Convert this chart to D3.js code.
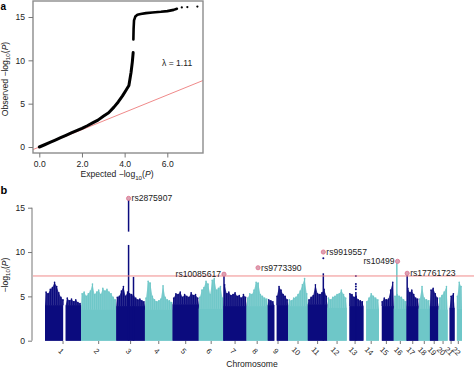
<!DOCTYPE html>
<html lang="en">
<head>
<meta charset="UTF-8">
<title>QQ and Manhattan plot</title>
<script src="https://cdn.jsdelivr.net/npm/d3@7"></script>
<style>
  body { margin: 0; background: #fff; }
  svg { display: block; font-family: "Liberation Sans", Arial, Helvetica, sans-serif; }
</style>
</head>
<body>
<svg id="chart" width="474" height="369"></svg>
<script>
// ---------- data: panel a (QQ plot) ----------
var qqExpected = [0, 0.25, 0.5, 0.75, 1, 1.25, 1.5, 1.75, 2, 2.25, 2.5, 2.75, 3, 3.25, 3.5, 3.7, 3.9, 4.05, 4.2, 4.3, 4.36, 4.4];
var qqObserved = [0, 0.26, 0.53, 0.8, 1.07, 1.35, 1.62, 1.88, 2.15, 2.45, 2.78, 3.1, 3.55, 3.95, 4.6, 5.2, 5.9, 6.5, 7.1, 8.6, 9.8, 10.9];
var qqExpectedTop = [4.41, 4.42, 4.44, 4.5, 4.6, 4.75, 5.0, 5.3, 5.7, 6.0, 6.3, 6.45];
var qqObservedTop = [12.4, 13.6, 14.6, 15.05, 15.25, 15.35, 15.45, 15.52, 15.6, 15.68, 15.82, 15.95];
var qqTailExpected = [6.68, 6.94, 7.41];
var qqTailObserved = [16.1, 16.15, 16.2];
var qqTicksX = [0, 2, 4, 6];
var qqTicksY = [0, 5, 10, 15];
var lambdaText = "\u03bb = 1.11";

// ---------- data: panel b (Manhattan plot) ----------
var chromosomes = ["1","2","3","4","5","6","7","8","9","10","11","12","13","14","15","16","17","18","19","20","21","22"];
var chromLengths = [249.25, 243.2, 198.0, 191.2, 180.9, 171.1, 159.1, 146.4, 141.2, 135.5, 135.0, 133.9, 115.2, 107.3, 102.5, 90.4, 81.2, 78.1, 59.1, 63.0, 48.1, 51.3]; // Mb
// level of the dense band of SNPs per chromosome
var chromBase = [4.0, 3.5, 3.9, 3.5, 4.1, 3.6, 3.9, 3.9, 4.0, 3.9, 4.1, 3.7, 3.9, 3.6, 3.9, 3.6, 3.9, 3.6, 3.9, 3.5, 3.7, 3.6];
// highest -log10(P) in evenly spaced windows along each chromosome
var chromPeaks = [
  [5.5, 5.3, 5.8, 6.0, 6.6, 6.1, 5.4, 4.9, 4.6, null, 4.8, 4.5, 4.7, 4.4, 4.6, 4.3, 4.2],
  [5.3, 5.5, 5.0, 5.3, 5.6, 6.4, 5.2, 5.5, 5.7, 5.2, 5.9, 5.6, 5.8, 5.5, 5.3, 4.9, 4.6],
  [4.9, 5.0, 5.6, 6.1, 5.0, 5.5, 5.3, 5.2, 5.0, 4.8, 4.6, 4.7, 4.5, 4.4],
  [4.8, 6.7, 6.5, 5.0, 4.6, 4.4, 4.5, 4.7, 6.2, 4.9, 4.6, 4.5, 4.3],
  [4.8, 5.3, 5.2, 5.5, 4.9, 5.2, 5.0, 4.9, 5.4, 5.1, 5.2, 4.8],
  [4.9, 5.7, 6.0, 6.7, 6.4, 5.2, 6.8, 7.0, 5.7, 5.9, 6.1, 4.8],
  [6.3, 5.3, 5.5, 5.1, 5.2, 5.4, 5.0, 5.1, 4.8, 5.2, 4.9],
  [4.8, 5.3, 5.2, 5.7, 6.6, 6.5, 5.2, 5.0, 4.8, 4.7],
  [4.6, 4.5, 4.4, null, 5.0, 6.1, 5.7, 5.2, 5.0, 4.6],
  [4.6, 4.5, 4.8, 4.9, 5.2, 5.6, 6.3, 7.0, 5.3],
  [4.6, 4.9, 5.1, 6.3, 5.3, 5.2, 5.4, 5.8, 5.0],
  [4.8, 4.6, 4.9, 5.0, 5.2, 5.3, 5.7, 5.2, 4.8],
  [null, 5.3, 5.2, 4.9, 5.0, 4.6, 4.5, 4.4],
  [null, 4.4, 4.8, 5.3, 5.0, 4.8, 4.6],
  [null, 4.4, 4.8, 4.6, 4.7, 5.7, 6.6],
  [5.0, 5.2, 5.0, 4.9, 4.6, 4.4],
  [5.9, 5.4, 5.7, 5.2, 4.8, 4.7],
  [4.7, 6.1, 4.8, 4.6, 4.5],
  [5.7, 5.9, 5.3, 4.8],
  [4.8, 5.1, 5.5, 6.1],
  [null, 5.0, 5.3],
  [null, 5.0, 6.6, 6.1]
];
// regions without SNPs (centromeres, acrocentric arms), Mb
var gaps = [
  { chr: "1", start: 125, end: 143 },
  { chr: "9", start: 45, end: 62 },
  { chr: "13", start: 0, end: 19 },
  { chr: "14", start: 0, end: 19 },
  { chr: "15", start: 0, end: 20 },
  { chr: "21", start: 0, end: 14 },
  { chr: "22", start: 0, end: 16 }
];
// columns of associated SNPs at the loci
var towers = [
  { chr: "3", pos: 85, from: 0, to: 10.8 },
  { chr: "3", pos: 85, from: 12.3, to: 15.9 },
  { chr: "3", pos: 119, from: 0, to: 7.2 },
  { chr: "7", pos: 3, from: 0, to: 7.3 },
  { chr: "11", pos: 107, from: 0, to: 7.6 },
  { chr: "13", pos: 63, from: 0, to: 5.5 },
  { chr: "16", pos: 21, from: 0, to: 8.8 },
  { chr: "17", pos: 2, from: 0, to: 7.4 }
];
var extraDots = [
  { chr: "11", pos: 107, p: 9.3 },
  { chr: "13", pos: 63, p: 7.3 },
  { chr: "13", pos: 63, p: 6.4 },
  { chr: "13", pos: 63, p: 6.1 },
  { chr: "13", pos: 63, p: 5.8 }
];
var hits = [
  { snp: "rs2875907", chr: "3", pos: 85, p: 16.05 },
  { snp: "rs10085617", chr: "7", pos: 3, p: 7.5 },
  { snp: "rs9773390", chr: "8", pos: 79, p: 8.23 },
  { snp: "rs9919557", chr: "11", pos: 107, p: 10.0 },
  { snp: "rs10499", chr: "16", pos: 26, p: 8.95 },
  { snp: "rs17761723", chr: "17", pos: 2, p: 7.6 }
];
var hitLabelSide = ["right", "left", "right", "right", "left", "right"];
var manTicksY = [0, 5, 10, 15];
var threshold = 7.3; // -log10(5e-8)

// ---------- drawing ----------
var svg = d3.select("#chart"),
    navy = "#0b0b7e",
    teal = "#6ec7c8",
    red = "#f08a8a",
    axisGrey = "#777",
    textCol = "#222",
    fs = 8.6;

function logP(sel, prefix) {
  // writes "<prefix>-log10(P)" with subscript and italic P
  sel.append("tspan").text(prefix + "\u2212log");
  sel.append("tspan").attr("dy", 2.6).attr("font-size", fs * 0.72).text("10");
  sel.append("tspan").attr("dy", -2.6).text("(");
  sel.append("tspan").attr("font-style", "italic").text("P");
  sel.append("tspan").text(")");
}

// panel letters
svg.append("text").attr("x", 0.5).attr("y", 9.5).attr("font-size", 10).attr("font-weight", "bold").text("a");
svg.append("text").attr("x", 0.5).attr("y", 193.5).attr("font-size", 11).attr("font-weight", "bold").text("b");

// ===== panel a =====
var box = { left: 33, right: 203, top: 1, bottom: 153 };
var qx = d3.scaleLinear().domain([0, 6]).range([39.3, 167.3]);
var qy = d3.scaleLinear().domain([0, 15]).range([147, 17]);
var gA = svg.append("g");

gA.append("clipPath").attr("id", "qqclip").append("rect")
  .attr("x", box.left).attr("y", box.top).attr("width", box.right - box.left).attr("height", box.bottom - box.top);

// expected line y = x
var diag = [qx.invert(box.left), qx.invert(box.right)];
gA.append("line")
  .attr("clip-path", "url(#qqclip)")
  .attr("x1", qx(diag[0])).attr("y1", qy(diag[0]))
  .attr("x2", qx(diag[1])).attr("y2", qy(diag[1]))
  .attr("stroke", red).attr("stroke-width", 1);

var qqLine = d3.line().x(function (d) { return qx(d[0]); }).y(function (d) { return qy(d[1]); });
gA.append("path")
  .datum(d3.zip(qqExpected, qqObserved))
  .attr("d", qqLine).attr("fill", "none").attr("stroke", "#000")
  .attr("stroke-width", 3).attr("stroke-linecap", "round").attr("stroke-linejoin", "round");
gA.append("path")
  .datum(d3.zip(qqExpectedTop, qqObservedTop))
  .attr("d", qqLine).attr("fill", "none").attr("stroke", "#000")
  .attr("stroke-width", 2.6).attr("stroke-linecap", "round").attr("stroke-linejoin", "round");
gA.selectAll(".tail").data(d3.zip(qqTailExpected, qqTailObserved)).enter().append("circle")
  .attr("cx", function (d) { return qx(d[0]); })
  .attr("cy", function (d) { return qy(d[1]); })
  .attr("r", 1.1).attr("fill", "#000");

gA.append("rect")
  .attr("x", box.left).attr("y", box.top).attr("width", box.right - box.left).attr("height", box.bottom - box.top)
  .attr("fill", "none").attr("stroke", "#8c8c8c").attr("stroke-width", 1.4);

var axA_x = gA.append("g").attr("transform", "translate(0," + box.bottom + ")")
  .call(d3.axisBottom(qx).tickValues(qqTicksX).tickSize(4.5).tickPadding(3.5));
var axA_y = gA.append("g").attr("transform", "translate(" + box.left + ",0)")
  .call(d3.axisLeft(qy).tickValues(qqTicksY).tickSize(4.5).tickPadding(3.5));
[axA_x, axA_y].forEach(function (a) {
  a.select(".domain").remove();
  a.selectAll("line").attr("stroke", axisGrey);
  a.selectAll("text").attr("font-size", fs).attr("fill", textCol).attr("font-family", null);
});

gA.append("text").attr("x", 162).attr("y", 66).attr("font-size", fs).attr("fill", textCol).text(lambdaText);

logP(gA.append("text").attr("x", 117).attr("y", 177).attr("text-anchor", "middle")
  .attr("font-size", fs).attr("fill", textCol), "Expected ");
logP(gA.append("text").attr("transform", "translate(7.5,79) rotate(-90)").attr("text-anchor", "middle")
  .attr("font-size", fs).attr("fill", textCol), "Observed ");

// ===== panel b =====
var offsets = [0].concat(Array.from(d3.cumsum(chromLengths)));
var total = offsets[offsets.length - 1];
var mx = d3.scaleLinear().domain([0, total]).range([45, 462]);
var my = d3.scaleLinear().domain([0, 15]).range([340.7, 207.7]);
var gB = svg.append("g");

function chrIndex(c) { return chromosomes.indexOf(c); }
function gx(c, pos) { return mx(offsets[chrIndex(c)] + pos); }
function inGap(c, pos) {
  return gaps.some(function (g) { return g.chr === c && pos >= g.start && pos <= g.end; });
}
function colour(i) { return i % 2 === 0 ? navy : teal; }

var envelope = d3.area()
  .x(function (d) { return d.x; })
  .y0(my(0))
  .y1(function (d) { return my(d.v); });

chromosomes.forEach(function (c, i) {
  var len = chromLengths[i], col = colour(i), base = chromBase[i];
  var cuts = gaps.filter(function (g) { return g.chr === c; }).sort(function (a, b) { return a.start - b.start; });
  var segs = [], s = 0;
  cuts.forEach(function (g) { if (g.start > s) segs.push([s, g.start]); s = g.end; });
  if (s < len) segs.push([s, len]);

  var peaks = chromPeaks[i], n = peaks.length;
  var pts = peaks.map(function (v, k) { return { pos: (k + 0.5) * len / n, v: v }; })
    .filter(function (p) { return p.v !== null && !inGap(c, p.pos); });

  segs.forEach(function (sg) {
    // scatter between the dense band and the window peaks
    var inner = pts.filter(function (p) { return p.pos >= sg[0] && p.pos <= sg[1]; });
    var outline = [{ x: gx(c, sg[0]), v: base }]
      .concat(inner.map(function (p) { return { x: gx(c, p.pos), v: p.v }; }))
      .concat([{ x: gx(c, sg[1]), v: base }]);
    gB.append("path").datum(outline).attr("d", envelope)
      .attr("fill", col).attr("fill-opacity", 0.85);
    // dense band
    gB.append("rect")
      .attr("x", gx(c, sg[0])).attr("width", gx(c, sg[1]) - gx(c, sg[0]))
      .attr("y", my(base)).attr("height", my(0) - my(base))
      .attr("fill", col);
  });

  pts.forEach(function (p) {
    gB.append("line")
      .attr("x1", gx(c, p.pos)).attr("x2", gx(c, p.pos))
      .attr("y1", my(base)).attr("y2", my(p.v))
      .attr("stroke", col).attr("stroke-width", 1.2);
    gB.append("circle").attr("cx", gx(c, p.pos)).attr("cy", my(p.v)).attr("r", 0.8).attr("fill", col);
  });
});

towers.forEach(function (t) {
  var col = colour(chrIndex(t.chr));
  gB.append("line")
    .attr("x1", gx(t.chr, t.pos)).attr("x2", gx(t.chr, t.pos))
    .attr("y1", my(t.from)).attr("y2", my(t.to))
    .attr("stroke", col).attr("stroke-width", 1.5);
});
gB.selectAll(".extra").data(extraDots).enter().append("circle")
  .attr("cx", function (d) { return gx(d.chr, d.pos); })
  .attr("cy", function (d) { return my(d.p); })
  .attr("r", 1).attr("fill", function (d) { return colour(chrIndex(d.chr)); });

// genome-wide significance
gB.append("line").attr("x1", 33).attr("x2", 474)
  .attr("y1", my(threshold)).attr("y2", my(threshold))
  .attr("stroke", red).attr("stroke-width", 1);

// lead SNPs
hits.forEach(function (h, i) {
  var x = gx(h.chr, h.pos), y = my(h.p);
  gB.append("circle").attr("cx", x).attr("cy", y).attr("r", 2.1)
    .attr("fill", "#d9a3b3").attr("stroke", "#e0708e").attr("stroke-width", 0.8);
  var right = hitLabelSide[i] === "right";
  gB.append("text")
    .attr("x", right ? x + 3 : x - 3).attr("y", y).attr("dy", "0.35em")
    .attr("text-anchor", right ? "start" : "end")
    .attr("font-size", fs).attr("fill", textCol).text(h.snp);
});

// y axis
var axB_y = gB.append("g").attr("transform", "translate(32,0)")
  .call(d3.axisLeft(my).tickValues(manTicksY).tickSize(4).tickPadding(3));
axB_y.select(".domain").remove();
axB_y.append("line").attr("y1", my(0)).attr("y2", my(15)).attr("stroke", axisGrey);
axB_y.selectAll("line").attr("stroke", axisGrey);
axB_y.selectAll("text").attr("font-size", fs).attr("fill", textCol).attr("font-family", null);

// chromosome axis
var centres = chromosomes.map(function (c, i) { return mx(offsets[i] + chromLengths[i] / 2); });
var axX = gB.append("g");
axX.selectAll("line").data(centres).enter().append("line")
  .attr("x1", function (d) { return d; }).attr("x2", function (d) { return d; })
  .attr("y1", 341).attr("y2", 344).attr("stroke", axisGrey);
axX.selectAll("text").data(chromosomes).enter().append("text")
  .attr("transform", function (d, i) { return "translate(" + (centres[i] - 2) + ",351) rotate(45)"; })
  .attr("text-anchor", "middle").attr("dy", "0.35em")
  .attr("font-size", 7.6).attr("fill", textCol).text(function (d) { return d; });

gB.append("text").attr("x", 252).attr("y", 366.5).attr("text-anchor", "middle")
  .attr("font-size", fs).attr("fill", textCol).text("Chromosome");
logP(gB.append("text").attr("transform", "translate(7.5,275) rotate(-90)").attr("text-anchor", "middle")
  .attr("font-size", fs).attr("fill", textCol), "");
</script>
</body>
</html>
